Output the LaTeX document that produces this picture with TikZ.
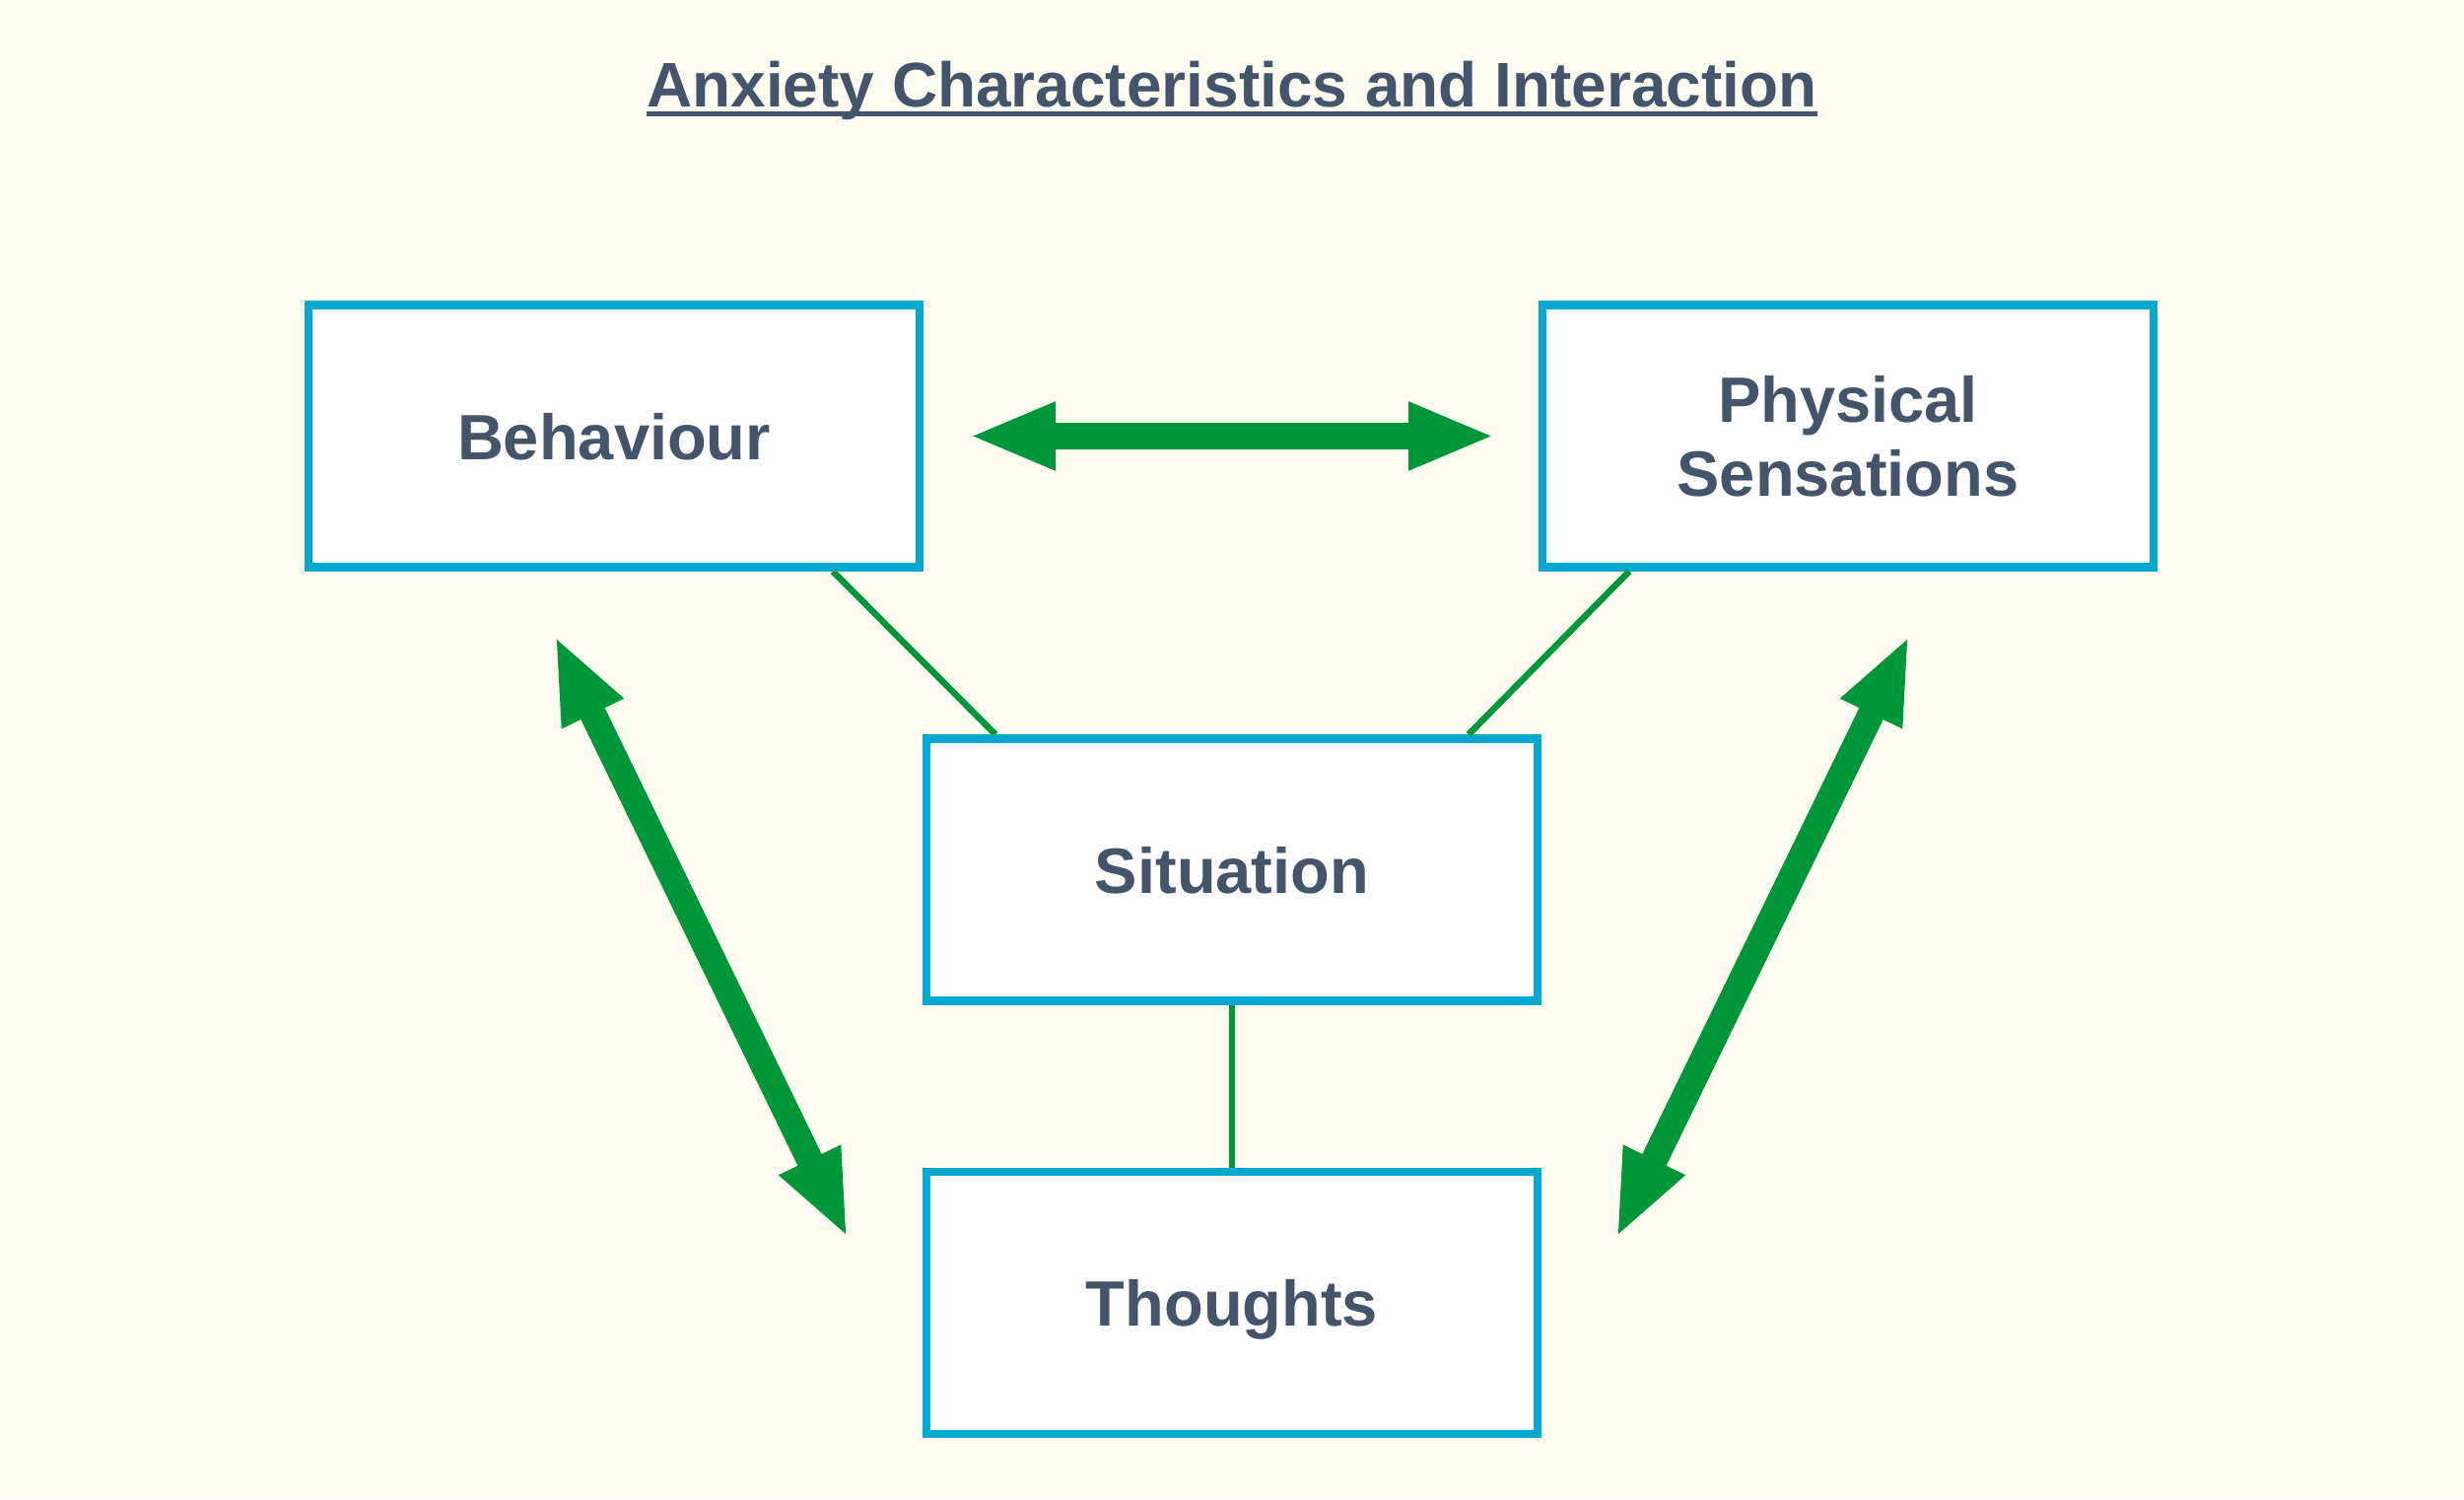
\documentclass[tikz,border=0pt]{standalone}
\usepackage{fontspec}
\setmainfont{Liberation Sans}
\usetikzlibrary{positioning, calc, arrows.meta}
\definecolor{bgcream}{HTML}{FCFDF0}
\definecolor{boxblue}{HTML}{06A8D0}
\definecolor{txtslate}{HTML}{44546A}
\definecolor{arrgreen}{HTML}{009639}

\begin{document}
\begin{tikzpicture}[
        box/.style={draw=boxblue, line width=0.085cm, fill=white,
                    minimum width=6.2cm, minimum height=2.66cm, inner sep=0pt,
                    font=\fontsize{18.5}{21.3}\selectfont\bfseries,
                    text=txtslate, align=center, text depth=0pt},
        hdr/.style={font=\fontsize{18.2}{22}\selectfont\bfseries, text=txtslate,
                    inner sep=0pt, anchor=base},
        link/.style={arrgreen, line width=0.065cm},
        dbl/.style={arrgreen, line width=0.27cm,
                    {Triangle[length=0.88cm, width=0.63cm]}-{Triangle[length=0.88cm, width=0.63cm]}},
    ]
    % page and background
    \fill[bgcream] (0,0) rectangle (25,-15.21);
    \useasboundingbox (0,0) rectangle (25,-15.21);

    % title
    \node[hdr] (title) at (12.5,-1.08) {Anxiety Characteristics and Interaction};
    \draw[txtslate, line width=0.05cm]
        ([yshift=-0.07cm]title.base west) -- ([yshift=-0.07cm]title.base east);

    % boxes
    \node[box] (beh) at (6.23,-4.425) {Behaviour};
    \node[box] (phys) at (18.75,-4.425) {Physical\\Sensations};
    \node[box] (sit) at (12.5,-8.825) {Situation};
    \node[box, below=1.65cm of sit] (tho) {Thoughts};

    % thin links to the situation
    \draw[link] ([xshift=2.22cm]beh.south) -- ([xshift=-2.40cm]sit.north);
    \draw[link] ([xshift=-2.22cm]phys.south) -- ([xshift=2.40cm]sit.north);
    \draw[link] (sit.south) -- (tho.north);

    % arrow ends
    \coordinate (hl) at (9.83,-4.425);
    \coordinate (hr) at (15.17,-4.425);
    \coordinate (bt) at (5.63,-6.45);
    \coordinate (tl) at (8.60,-12.56);
    \coordinate (pt) at (19.37,-6.45);
    \coordinate (tr) at (16.40,-12.56);

    % double arrows
    \foreach \a/\b in {hl/hr, bt/tl, pt/tr} {
        \draw[dbl] (\a) -- (\b);
    }
\end{tikzpicture}
\end{document}
